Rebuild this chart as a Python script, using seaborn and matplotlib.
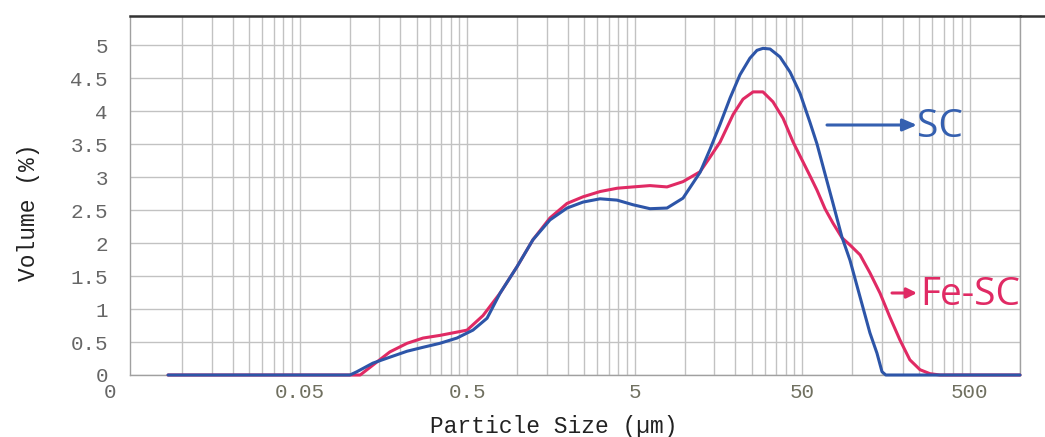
import numpy as np
import pandas as pd
import seaborn as sns
import matplotlib.pyplot as plt

# ---- data ----
sc_size = [0.0082, 0.1, 0.110, 0.137, 0.173, 0.219, 0.273, 0.344, 0.435, 0.542,
           0.658, 0.787, 0.993, 1.237, 1.563, 1.976, 2.46, 3.11, 3.93, 4.89,
           6.18, 7.81, 9.73, 12.3, 14.1, 16.2, 18.6, 21.3, 24.4, 26.9,
           29.2, 32.2, 36.9, 42.4, 48.6, 55.7, 61.4, 68.5, 76.5, 86.5,
           96.6, 111, 127, 140, 150, 158, 1000]
sc_volume = [0, 0, 0.05, 0.18, 0.27, 0.36, 0.42, 0.48, 0.56, 0.68,
             0.86, 1.24, 1.64, 2.05, 2.35, 2.53, 2.62, 2.67, 2.65, 2.58,
             2.52, 2.53, 2.68, 3.07, 3.42, 3.8, 4.2, 4.55, 4.8, 4.92,
             4.95, 4.94, 4.82, 4.59, 4.27, 3.83, 3.5, 3.05, 2.6, 2.09,
             1.74, 1.18, 0.64, 0.33, 0.05, 0, 0]

fesc_size = [0.0082, 0.115, 0.137, 0.173, 0.219, 0.273, 0.344, 0.435, 0.5, 0.622,
             0.787, 0.993, 1.237, 1.563, 1.976, 2.46, 3.11, 3.93, 4.89, 6.18,
             7.81, 9.73, 12.3, 14.1, 16.2, 19.4, 22.2, 25.5, 29.2, 33.5,
             38.5, 44.2, 48.6, 55.7, 61.4, 68.5, 76.5, 86.5, 96.6, 111,
             127, 146, 167, 192, 220, 253, 290, 333, 1000]
fesc_volume = [0, 0, 0.15, 0.35, 0.48, 0.56, 0.6, 0.65, 0.68, 0.9,
               1.24, 1.64, 2.05, 2.38, 2.6, 2.7, 2.78, 2.83, 2.85, 2.87,
               2.85, 2.93, 3.08, 3.3, 3.53, 3.95, 4.18, 4.29, 4.29, 4.14,
               3.89, 3.53, 3.32, 3.02, 2.8, 2.52, 2.3, 2.08, 1.97, 1.82,
               1.55, 1.24, 0.88, 0.53, 0.23, 0.08, 0.02, 0, 0]

series_names = ["SC", "Fe-SC"]
x_tick_values = [0.05, 0.5, 5, 50, 500]
x_tick_labels = ["0.05", "0.5", "5", "50", "500"]
y_tick_values = [0, 0.5, 1, 1.5, 2, 2.5, 3, 3.5, 4, 4.5, 5]
y_tick_labels = ["0", "0.5", "1", "1.5", "2", "2.5", "3", "3.5", "4", "4.5", "5"]
grid_decades = [0.01, 0.1, 1, 10, 100]
grid_multipliers = [1, 1.5, 2, 2.5, 3, 3.5, 4, 4.5, 5]

df = pd.concat([
    pd.DataFrame({"size": sc_size, "volume": sc_volume, "sample": series_names[0]}),
    pd.DataFrame({"size": fesc_size, "volume": fesc_volume, "sample": series_names[1]}),
])

sns.set_theme(style="white")
plt.rcParams["font.family"] = ["Liberation Mono", "DejaVu Sans"]

blue = "#2d55a8"
red = "#e02a64"

fig = plt.figure(figsize=(10.45, 4.37), dpi=100)
ax = fig.add_axes([130 / 1045, 1 - 375 / 437, 890 / 1045, 359 / 437])

sns.lineplot(data=df, x="size", y="volume", hue="sample",
             hue_order=["Fe-SC", "SC"], palette={"SC": blue, "Fe-SC": red},
             linewidth=2.2, legend=False, ax=ax, estimator=None, clip_on=False,
             zorder=3, solid_joinstyle="round", solid_capstyle="round")

ax.set_xscale("log")
ax.set_xlim(0.00486, 1000)
ax.set_ylim(0, 5.44)

grid_pos = [d * m for d in grid_decades for m in grid_multipliers] + [1000]
ax.set_xticks(grid_pos, minor=True)
ax.set_xticks(x_tick_values)
ax.set_xticklabels(x_tick_labels)
ax.set_yticks(y_tick_values)
ax.set_yticklabels(y_tick_labels)
ax.xaxis.set_minor_formatter(plt.NullFormatter())

ax.grid(True, which="both", axis="x", color="#c2c2c2", linewidth=1.0)
ax.grid(True, which="major", axis="y", color="#c2c2c2", linewidth=1.0)
ax.set_axisbelow(True)

ax.tick_params(axis="both", which="both", length=0)
ax.tick_params(axis="y", pad=16, labelsize=15, labelcolor="#666666")
ax.tick_params(axis="x", pad=6, labelsize=15, labelcolor="#707060")

for s in ["left", "bottom", "right"]:
    ax.spines[s].set_color("#a0a0a0")
    ax.spines[s].set_linewidth(1.0)
ax.spines["top"].set_color("#333333")
ax.spines["top"].set_linewidth(1.8)
# top border runs to the right edge of the figure
ax.plot([1.0, 1025 / 890], [1.0, 1.0], transform=ax.transAxes, color="#333333",
        linewidth=1.8, clip_on=False)

ax.set_xlabel("Particle Size (\u00b5m)", fontsize=16.5, color="#222222")
ax.set_ylabel("Volume (%)", fontsize=16.5, color="#222222")
ax.xaxis.set_label_coords((554 - 130) / 890, -40 / 359)
ax.yaxis.set_label_coords((40 - 130) / 890, (375 - 212) / 359)

# stray zero under the axis corner, as in the reference
ax.text((116 - 130) / 890, -17 / 359, "0", transform=ax.transAxes, fontsize=15,
        color="#666666", ha="right", va="center")

# annotations with arrows
ann_font = ["Open Sans", "DejaVu Sans"]
sc_col = "#3560b0"
ax.annotate("", xy=((917 - 130) / 890, (375 - 125) / 359),
            xytext=((827 - 130) / 890, (375 - 125) / 359),
            xycoords="axes fraction", textcoords="axes fraction",
            arrowprops=dict(arrowstyle="-|>,head_length=0.7,head_width=0.3",
                            color=sc_col, lw=2.2, shrinkA=0, shrinkB=0))
ax.text((917 - 130) / 890, (375 - 127) / 359, "SC", transform=ax.transAxes,
        fontsize=28, color=sc_col, family=ann_font, ha="left", va="center")

ax.annotate("", xy=((917 - 130) / 890, (375 - 293) / 359),
            xytext=((892 - 130) / 890, (375 - 293) / 359),
            xycoords="axes fraction", textcoords="axes fraction",
            arrowprops=dict(arrowstyle="-|>,head_length=0.5,head_width=0.25",
                            color=red, lw=2.2, shrinkA=0, shrinkB=0))
ax.text((920 - 130) / 890, (375 - 295) / 359, "Fe-SC", transform=ax.transAxes,
        fontsize=28, color=red, family=ann_font, ha="left", va="center")

fig.savefig("out.png", dpi=100)
